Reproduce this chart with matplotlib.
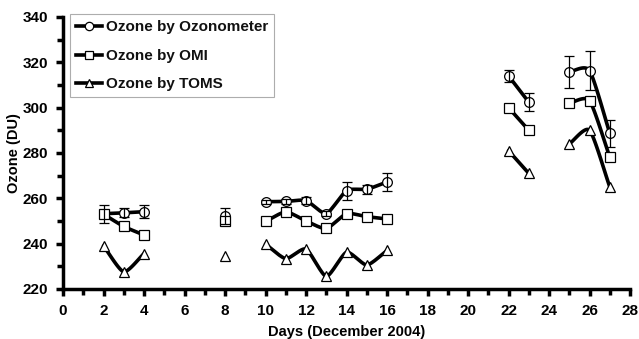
import numpy as np
import matplotlib
matplotlib.use("Agg")
import matplotlib.pyplot as plt
from matplotlib.lines import Line2D

plt.rcParams['font.family'] = ['Liberation Sans', 'DejaVu Sans']
plt.rcParams['font.weight'] = 'bold'

days = [2, 3, 4, 8, 10, 11, 12, 13, 14, 15, 16, 22, 23, 25, 26, 27]
ozonometer = [253.2, 253.6, 254.1, 252.3, 258.5, 258.6, 259.0, 253.3, 263.4, 264.0, 267.2,
              314.0, 302.4, 315.8, 316.3, 288.7]
ozonometer_err = [4.0, 2.0, 3.0, 3.5, 0.8, 1.0, 1.5, 1.0, 4.0, 2.0, 3.8,
                  2.7, 4.0, 7.0, 8.5, 6.0]
omi = [253.0, 247.6, 243.8, 250.0, 249.8, 254.0, 250.0, 246.7, 253.2, 251.9, 250.9,
       300.0, 290.0, 302.0, 303.0, 278.2]
toms = [239.0, 227.6, 235.6, 234.6, 239.8, 233.4, 237.6, 225.6, 236.2, 230.6, 237.0,
        281.0, 271.0, 284.0, 290.0, 265.0]


def runs(x):
    # split days into blocks of consecutive days
    out, cur = [], [0]
    for i in range(1, len(x)):
        if x[i] - x[i - 1] == 1:
            cur.append(i)
        else:
            out.append(cur)
            cur = [i]
    out.append(cur)
    return out


def smooth(x, y, n=30, k=0.33):
    # cardinal spline through the points (like excel smoothed lines)
    x = np.asarray(x, float)
    y = np.asarray(y, float)
    if len(x) < 3:
        return x, y
    m = len(x)
    tx, ty = np.zeros(m), np.zeros(m)
    for i in range(m):
        a, b = max(i - 1, 0), min(i + 1, m - 1)
        tx[i] = (x[b] - x[a]) * k * (2 if a == i or b == i else 1)
        ty[i] = (y[b] - y[a]) * k * (2 if a == i or b == i else 1)
    t = np.linspace(0, 1, n)
    h00 = 2 * t**3 - 3 * t**2 + 1
    h10 = t**3 - 2 * t**2 + t
    h01 = -2 * t**3 + 3 * t**2
    h11 = t**3 - t**2
    xs, ys = [], []
    for i in range(m - 1):
        xs.append(h00 * x[i] + h10 * tx[i] + h01 * x[i + 1] + h11 * tx[i + 1])
        ys.append(h00 * y[i] + h10 * ty[i] + h01 * y[i + 1] + h11 * ty[i + 1])
    return np.concatenate(xs), np.concatenate(ys)


fig = plt.figure(figsize=(6.39, 3.39), dpi=100)
ax = fig.add_axes([0.0986, 0.1475, 0.8874, 0.8025])

d = np.array(days)
series = [(ozonometer, 'o', 'Ozone by Ozonometer'),
          (omi, 's', 'Ozone by OMI'),
          (toms, '^', 'Ozone by TOMS')]

for vals, mk, lab in series:
    v = np.array(vals)
    for r in runs(days):
        if len(r) > 1:
            sx, sy = smooth(d[r], v[r])
            ax.plot(sx, sy, color='black', lw=2.6, zorder=2, solid_capstyle='round')
    ax.plot(d, v, linestyle='none', marker=mk, ms=7, mfc='white', mec='black',
            mew=0.9, zorder=3)

ax.errorbar(days, ozonometer, yerr=ozonometer_err, fmt='none', ecolor='black',
            elinewidth=0.9, capsize=3.5, capthick=0.9, zorder=4)

ax.set_xlim(0, 28)
ax.set_ylim(220, 340)
ax.set_xticks(range(0, 29, 2))
ax.set_xticks(range(0, 29, 1), minor=True)
ax.set_yticks(range(220, 341, 20))
ax.set_yticks(range(220, 341, 10), minor=True)
for s in ['top', 'right']:
    ax.spines[s].set_visible(False)
for s in ['left', 'bottom']:
    ax.spines[s].set_linewidth(2.5)
ax.tick_params(which='major', direction='out', length=5, width=2.5, labelsize=11, pad=6)
ax.tick_params(which='minor', direction='out', length=4, width=2.5)
for lbl in ax.get_xticklabels() + ax.get_yticklabels():
    lbl.set_fontweight('bold')

ax.set_xlabel('Days (December 2004)', fontsize=10.5, fontweight='bold', labelpad=5)
ax.set_ylabel('Ozone (DU)', fontsize=10.5, fontweight='bold', labelpad=1)

handles = [Line2D([], [], color='black', lw=2.6, marker=mk, ms=6, mfc='white',
                  mec='black', mew=0.9) for _, mk, _ in series]
leg = ax.legend(handles, [s[2] for s in series], loc='upper left',
                bbox_to_anchor=(0.012, 1.01), frameon=True, fancybox=False,
                edgecolor='#999999', fontsize=11, handlelength=1.7,
                borderpad=0.4, labelspacing=0.95, handletextpad=0.25,
                borderaxespad=0)
leg.get_frame().set_linewidth(0.8)
for t in leg.get_texts():
    t.set_fontweight('bold')
    t.set_color('#111111')

fig.savefig('out.png', dpi=100)
